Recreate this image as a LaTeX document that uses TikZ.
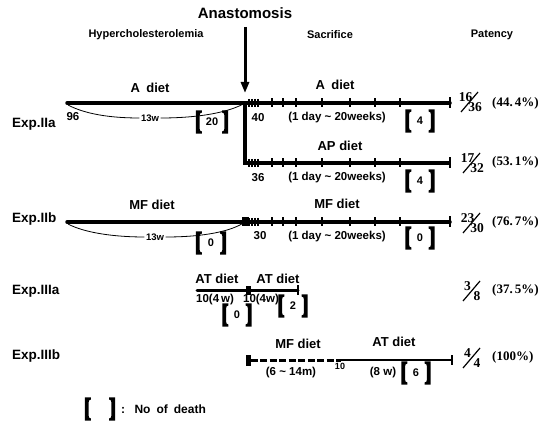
\documentclass[tikz,border=0pt]{standalone}
\usepackage{fontspec}
\setmainfont{Liberation Sans}
\newfontfamily\serifnum{Liberation Serif}
\usetikzlibrary{calc,arrows.meta}
\newcommand\deathbr[1]{%
  \fill ($(#1.north west)+(6pt,0)$) -- (#1.north west) -- (#1.south west) -- ($(#1.south west)+(6pt,0)$) -- ($(#1.south west)+(6pt,2.2pt)$) .. controls ($(#1.south west)+(3.8pt,3pt)$) .. ($(#1.south west)+(3.8pt,6pt)$) -- ($(#1.north west)+(3.8pt,-6pt)$) .. controls ($(#1.north west)+(3.8pt,-3pt)$) .. ($(#1.north west)+(6pt,-2.2pt)$) -- cycle;
  \fill ($(#1.north east)+(-6pt,0)$) -- (#1.north east) -- (#1.south east) -- ($(#1.south east)+(-6pt,0)$) -- ($(#1.south east)+(-6pt,2.2pt)$) .. controls ($(#1.south east)+(-3.8pt,3pt)$) .. ($(#1.south east)+(-3.8pt,6pt)$) -- ($(#1.north east)+(-3.8pt,-6pt)$) .. controls ($(#1.north east)+(-3.8pt,-3pt)$) .. ($(#1.north east)+(-6pt,-2.2pt)$) -- cycle;
}
% slashed fraction: name, cx, cy, numerator, denominator
\newcommand\slf[5]{%
  \node[frac] (#1n) at (#2-4.5,#3-5) {#4};
  \node[frac] (#1d) at (#2+5,#3+5) {#5};
  \draw[line width=1.2pt] (#2-9,#3+10) -- (#2+8,#3-10);
}
\tikzset{
  hdr/.style={font=\bfseries\fontsize{11}{12}\selectfont, inner sep=0pt},
  diet/.style={font=\bfseries\fontsize{13}{14}\selectfont, inner sep=0pt},
  exp/.style={font=\bfseries\fontsize{13.5}{14}\selectfont, inner sep=0pt, anchor=west},
  num/.style={font=\bfseries\fontsize{11.5}{12}\selectfont, inner sep=0pt},
  small/.style={font=\bfseries\fontsize{9.5}{10}\selectfont, inner sep=1.5pt},
  pct/.style={font=\serifnum\bfseries\fontsize{13}{14}\selectfont, inner sep=0pt, anchor=west},
  frac/.style={font=\serifnum\bfseries\fontsize{13.5}{14}\selectfont, inner sep=0pt},
  death/.style={font=\bfseries\fontsize{11}{12}\selectfont, minimum height=23pt, minimum width=29pt, inner sep=0pt},
  main/.style={line width=3.5pt, line cap=round},
  tick/.style={line width=1.3pt},
  endtick/.style={line width=1.6pt},
  curve/.style={line width=0.8pt},
}
\begin{document}
\begin{tikzpicture}[x=1pt,y=-1pt]
\useasboundingbox (0,0) rectangle (549,422);

% headers
\node[font=\bfseries\fontsize{15}{16}\selectfont, inner sep=0pt] (anast) at (245,13) {Anastomosis};
\node[hdr] (hyper) at (146,35) {Hypercholesterolemia};
\node[hdr] (sacr) at (330,35) {Sacrifice};
\node[hdr] (pat) at (492,35) {Patency};
\coordinate (arrtop) at (245,27);
\coordinate (arrtip) at (245,93);
\draw[line width=3pt, -{Triangle[width=8pt,length=11pt]}] (arrtop) -- (arrtip);

% ---------- Exp IIa ----------
\node[exp] (e2a) at (12,124) {Exp.IIa};
\node[diet] (ad1) at (150,88) {A\enspace diet};
\node[diet] (ad2) at (335,85) {A\enspace diet};
\coordinate (a0) at (67,103);
\coordinate (a1) at (245,103);
\coordinate (a2) at (450,103);
\draw[main] (a0) -- (a2);
\node[num] (n96) at (73,117) {96};
\node[small] (w13a) at (150,118) {13w};
\draw[curve] (68,105) .. controls (85,114) and (110,118) .. (w13a.west);
\draw[curve] (w13a.east) .. controls (200,118) and (230,112) .. (a1);
\node[death, minimum width=32pt] (d20) at (212,122) {20};
\deathbr{d20}
\node[num] (n40) at (258,118) {40};
\node[num] (r2a) at (337,118) {(1 day \textasciitilde\ 20weeks)};
\node[death] (d4a) at (420,121) {4};
\deathbr{d4a}
\slf{f2a}{470}{102}{16}{36}
\node[pct] (p2a) at (492,103) {(44.\,4\%)};

% ---------- AP ----------
\node[diet] (apd) at (340,146) {AP diet};
\coordinate (ap1) at (245,163);
\coordinate (ap2) at (450,163);
\draw[line width=3.5pt, line join=miter] (a1) -- (ap1) -- (ap2);
\node[num] (n36) at (258,178) {36};
\node[num] (rap) at (337,178) {(1 day \textasciitilde\ 20weeks)};
\node[death] (d4b) at (420,181) {4};
\deathbr{d4b}
\slf{fap}{472}{163}{17}{32}
\node[pct] (pap) at (492,162) {(53.\,1\%)};

% ---------- Exp IIb ----------
\node[exp] (e2b) at (12,219) {Exp.IIb};
\node[diet] (mf1) at (152,205) {MF diet};
\node[diet] (mf2) at (337,204) {MF diet};
\coordinate (b0) at (67,222);
\coordinate (b1) at (245,222);
\coordinate (b2) at (450,222);
\draw[main] (b0) -- (b2);
\fill (242,217.5) rectangle (248.5,226.5);
\node[small] (w13b) at (155,237) {13w};
\draw[curve] (68,224) .. controls (85,233) and (115,237) .. (w13b.west);
\draw[curve] (w13b.east) .. controls (205,237) and (232,231) .. (b1);
\node[death, minimum width=30pt] (d0a) at (211,243) {0};
\deathbr{d0a}
\node[num] (n30) at (260,236) {30};
\node[num] (r2b) at (337,237) {(1 day \textasciitilde\ 20weeks)};
\node[death] (d0b) at (420,238) {0};
\deathbr{d0b}
\slf{f2b}{472}{223}{23}{30}
\node[pct] (p2b) at (492,222) {(76.\,7\%)};

% ticks for the three long rows
\foreach \yy in {103,163,222}{
  \foreach \xx in {249,252,255,258}{\draw[tick] (\xx,\yy-4) -- (\xx,\yy+4);}
  \foreach \xx in {272,283,296,322,350,375,400}{\draw[tick] (\xx,\yy-4.5) -- (\xx,\yy+4.5);}
  \draw[endtick] (450,\yy-5.5) -- (450,\yy+5.5);
}

% ---------- Exp IIIa ----------
\node[exp] (e3a) at (12,291) {Exp.IIIa};
\node[diet] (at1) at (217,279) {AT diet};
\node[diet] (at2) at (278,279) {AT diet};
\coordinate (c0) at (197,290);
\coordinate (c2) at (298,290);
\draw[line width=3pt, line cap=round] (c0) -- (c2);
\fill (245.5,285.5) rectangle (250.5,294.5);
\draw[endtick] (298,285) -- (298,295);
\node[num] (c10a) at (215,300) {10(4\,w)};
\node[num] (c10b) at (261,300) {10(4w)};
\node[death] (d0c) at (237,315) {0};
\deathbr{d0c}
\node[death] (d2) at (293,306) {2};
\deathbr{d2}
\slf{f3a}{472}{291}{3}{8}
\node[pct] (p3a) at (492,290) {(37.\,5\%)};

% ---------- Exp IIIb ----------
\node[exp] (e3b) at (12,356) {Exp.IIIb};
\node[diet] (mf3) at (298,344) {MF diet};
\node[diet] (at3) at (394,342) {AT diet};
\fill (245.5,355) rectangle (250.5,366);
\coordinate (g0) at (250.5,360);
\coordinate (g1) at (341,360);
\coordinate (g2) at (452,360);
\draw[line width=3pt, dash pattern=on 7pt off 2.5pt] (g0) -- (g1);
\draw[line width=2pt] (g1) -- (g2);
\draw[endtick] (452,355) -- (452,365);
\node[num] (r3b) at (291,373) {(6 \textasciitilde\ 14m)};
\node[num, font=\bfseries\fontsize{9}{10}\selectfont] (n10) at (340,366) {10};
\node[num] (w8) at (383,373) {(8 w)};
\node[death] (d6) at (416,373) {6};
\deathbr{d6}
\slf{f3b}{472}{358}{4}{4}
\node[pct] (p3b) at (492,357) {(100\%)};

% ---------- legend ----------
\node[death, minimum width=30pt] (leg) at (100,409) {};
\deathbr{leg}
\node[font=\bfseries\fontsize{12}{13}\selectfont, inner sep=0pt, anchor=west] (legt) at (121,409) {:\enspace\ No\enspace of\enspace death};
\end{tikzpicture}
\end{document}
